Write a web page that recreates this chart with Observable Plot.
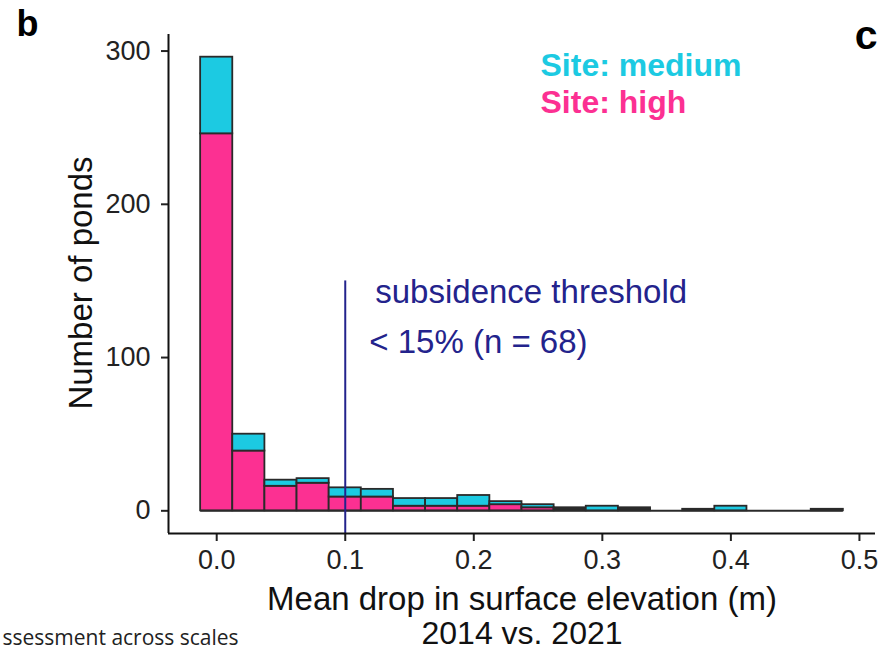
<!DOCTYPE html>
<html><head><meta charset="utf-8">
<script src="https://cdn.jsdelivr.net/npm/d3@7"></script>
<script src="https://cdn.jsdelivr.net/npm/@observablehq/plot@0.6"></script>
<style>body{margin:0;background:#fff} svg{display:block}</style>
</head><body><div id="chart"></div>
<script>
// ---- data ----
const binCenters = [0, 0.025, 0.05, 0.075, 0.1, 0.125, 0.15, 0.175, 0.2, 0.225, 0.25, 0.275, 0.3, 0.325, 0.35, 0.375, 0.4, 0.425, 0.45, 0.475];
const binWidth = 0.025;
const highCounts   = [246, 39, 16, 18, 9, 9, 3, 3, 3, 4, 2, 1, 0, 1, 0, 1, 0, 0, 0, 1];
const mediumCounts = [50, 11, 4, 3, 6, 5, 5, 5, 7, 2, 2, 1, 3, 1, 0, 0, 3, 0, 0, 0];
const sites = ["medium", "high"];
const siteLabels = ["Site: medium", "Site: high"];
const siteColors = ["#1ccae2", "#fc3092"];
const xTicks = [0, 0.1, 0.2, 0.3, 0.4, 0.5];
const yTicks = [0, 100, 200, 300];
const threshold = 0.1;
const thresholdTop = 150;
const annotationLines = ["subsidence threshold", "< 15% (n = 68)"];
const xTitleLines = ["Mean drop in surface elevation (m)", "2014 vs. 2021"];
const yTitle = "Number of ponds";
const panelLetters = ["b", "c"];
const captionText = "ssessment across scales";

// ---- build stacked table (high at bottom, medium on top) ----
const rows = [];
binCenters.forEach((c, i) => {
  const x1 = c - binWidth / 2, x2 = c + binWidth / 2;
  const h = highCounts[i], m = mediumCounts[i];
  if (h > 0) rows.push({x1, x2, y1: 0, y2: h, site: "high"});
  if (m > 0) rows.push({x1, x2, y1: h, y2: h + m, site: "medium"});
});
const edgeMin = binCenters[0] - binWidth / 2;
const edgeMax = binCenters[binCenters.length - 1] + binWidth / 2;
const maxTotal = d3.max(binCenters, (c, i) => highCounts[i] + mediumCounts[i]);
const xPad = (edgeMax - edgeMin) * 0.05;
const yPad = maxTotal * 0.05;
const xDomain = [edgeMin - xPad, edgeMax + xPad];
const yDomain = [-yPad, maxTotal + yPad];

const navy = "#23238c";
const barStroke = "#2a2a2a";

const chart = Plot.plot({
  width: 884,
  height: 649,
  marginLeft: 168,
  marginRight: 9,
  marginTop: 34,
  marginBottom: 116,
  style: {fontFamily: "Liberation Sans, Arial, sans-serif", fontSize: "27px", color: "#222", background: "#fff"},
  x: {domain: xDomain},
  y: {domain: yDomain},
  color: {domain: sites, range: siteColors},
  marks: [
    Plot.ruleY([0], {x1: edgeMin, x2: edgeMax, stroke: barStroke, strokeWidth: 2}),
    Plot.rect(rows, {x1: "x1", x2: "x2", y1: "y1", y2: "y2", fill: "site", stroke: barStroke, strokeWidth: 1.8}),
    Plot.ruleX([threshold], {y1: yDomain[0], y2: thresholdTop, stroke: navy, strokeWidth: 2}),
    Plot.text([annotationLines[0]], {text: d => d, x: threshold, y: thresholdTop, dx: 30, dy: 22, lineAnchor: "bottom", textAnchor: "start", fontSize: 33, fill: navy}),
    Plot.text([annotationLines[1]], {text: d => d, x: threshold, y: thresholdTop, dx: 24, dy: 72, lineAnchor: "bottom", textAnchor: "start", fontSize: 33, fill: navy}),
    Plot.axisX({ticks: xTicks, tickFormat: d3.format(".1f"), tickSize: 8, tickPadding: 8, strokeWidth: 2, fontSize: 27, label: null}),
    Plot.axisY({ticks: yTicks, tickFormat: d3.format("d"), tickSize: 7, tickPadding: 11, strokeWidth: 2, fontSize: 27, label: null}),
    Plot.ruleX([xDomain[0]], {stroke: "#111", strokeWidth: 2}),
    Plot.ruleY([yDomain[0]], {stroke: "#111", strokeWidth: 2}),
    Plot.text([xTitleLines[0]], {text: d => d, frameAnchor: "bottom", dy: 76, lineAnchor: "bottom", fontSize: 33, fill: "#111"}),
    Plot.text([xTitleLines[1]], {text: d => d, frameAnchor: "bottom", dy: 110, lineAnchor: "bottom", fontSize: 32, fill: "#111"}),
    Plot.text([yTitle], {text: d => d, frameAnchor: "left", dx: -77, dy: -1, rotate: -90, lineAnchor: "bottom", textAnchor: "middle", fontSize: 33, fill: "#111"}),
    Plot.text([siteLabels[0]], {text: d => d, frameAnchor: "top-left", dx: 372, dy: 41, lineAnchor: "bottom", textAnchor: "start", fontSize: 32, fontWeight: "bold", fill: siteColors[0]}),
    Plot.text([siteLabels[1]], {text: d => d, frameAnchor: "top-left", dx: 372, dy: 78, lineAnchor: "bottom", textAnchor: "start", fontSize: 32, fontWeight: "bold", fill: siteColors[1]}),
    Plot.text([panelLetters[0]], {text: d => d, frameAnchor: "top-left", dx: -152, dy: 1, lineAnchor: "bottom", textAnchor: "start", fontSize: 36, fontWeight: "bold", fill: "#000"}),
    Plot.text([panelLetters[1]], {text: d => d, frameAnchor: "top-right", dx: 2, dy: 14, lineAnchor: "bottom", textAnchor: "end", fontSize: 41, fontWeight: "bold", fill: "#000"}),
    Plot.text([captionText], {text: d => d, frameAnchor: "bottom-left", dx: -166, dy: 111, lineAnchor: "bottom", textAnchor: "start", fontSize: 21, fontFamily: "Open Sans", letterSpacing: "-0.2px", fill: "#222"})
  ]
});
document.getElementById("chart").appendChild(chart);
</script>
</body></html>
